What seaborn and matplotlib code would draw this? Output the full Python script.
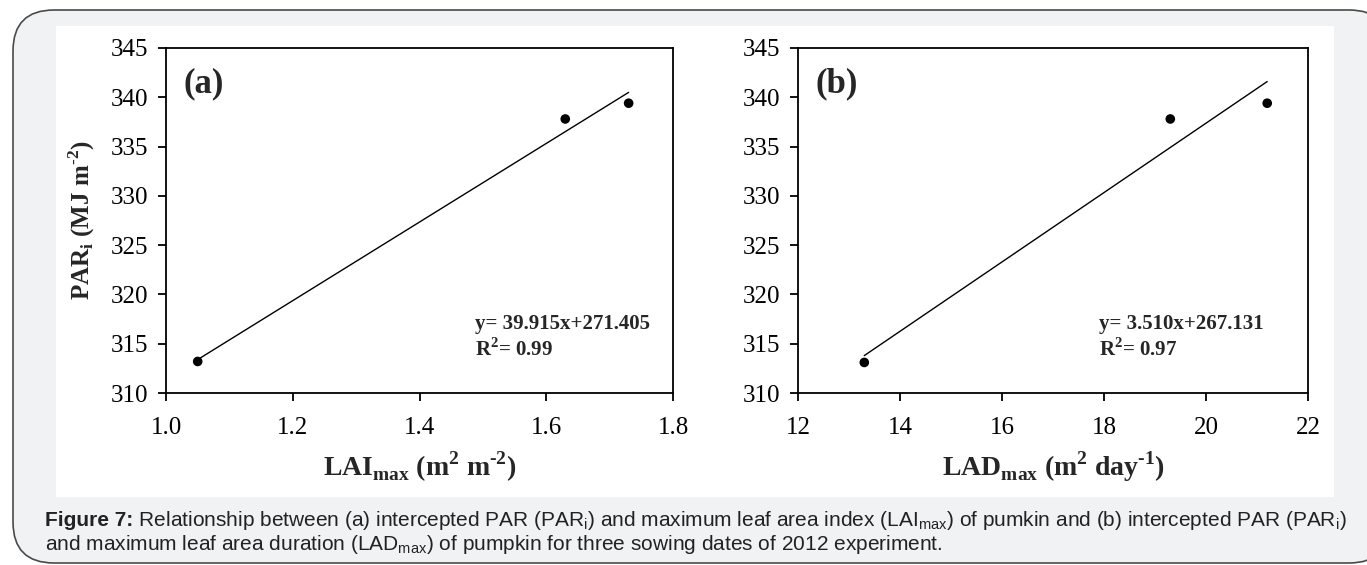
import matplotlib
matplotlib.use("Agg")
import matplotlib.pyplot as plt
from matplotlib.patches import FancyBboxPatch, Rectangle
import numpy as np
import pandas as pd
import seaborn as sns

# ---- data ----
lai_max = [1.05, 1.63, 1.73]
lad_max = [13.3, 19.3, 21.2]
par_i = [313.2, 337.8, 339.4]
par_i_b = [313.1, 337.8, 339.4]
eq_a = "y= 39.915x+271.405"
r2_a = "0.99"
eq_b = "y= 3.510x+267.131"
r2_b = "0.97"
xticks_a = [1.0, 1.2, 1.4, 1.6, 1.8]
xticks_b = [12, 14, 16, 18, 20, 22]
yticks = [310, 315, 320, 325, 330, 335, 340, 345]
caption_bold = "Figure 7:"
caption_1 = (" Relationship between (a) intercepted PAR (PAR$_{\\mathregular{i}}$) and maximum leaf area index "
             "(LAI$_{\\mathregular{max}}$) of pumkin and (b) intercepted PAR (PAR$_{\\mathregular{i}}$)")
caption_2 = ("and maximum leaf area duration (LAD$_{\\mathregular{max}}$) of pumpkin for three sowing dates "
             "of 2012 experiment.")

sns.set_style("ticks")
plt.rcParams["font.family"] = ["Liberation Serif", "DejaVu Serif"]

W, H = 1367, 565
fig = plt.figure(figsize=(W / 100, H / 100), dpi=100)
fig.patch.set_facecolor("white")


def fx(px):
    return px / W


def fy(py):
    return 1 - py / H


# outer rounded box
box = FancyBboxPatch((fx(13), fy(563)), fx(1390) - fx(13), fy(10) - fy(563),
                     boxstyle="round,pad=0,rounding_size=0.03",
                     transform=fig.transFigure, facecolor="#f1f2f4",
                     edgecolor="#4a4a4a", linewidth=1.2, zorder=-2,
                     mutation_aspect=W / H)
fig.patches.append(box)
# white image area
fig.patches.append(Rectangle((fx(56), fy(497)), fx(1334) - fx(56), fy(26) - fy(497),
                             transform=fig.transFigure, facecolor="white",
                             edgecolor="none", zorder=-1))

ax_a = fig.add_axes([fx(166), fy(393), fx(673) - fx(166), fy(48) - fy(393)])
ax_b = fig.add_axes([fx(798), fy(393), fx(1308) - fx(798), fy(48) - fy(393)])

df_a = pd.DataFrame({"x": lai_max, "y": par_i})
df_b = pd.DataFrame({"x": lad_max, "y": par_i_b})

for ax, df, xt, eq, r2, lab, xpos in [
    (ax_a, df_a, xticks_a, eq_a, r2_a, "(a)", 0.61),
    (ax_b, df_b, xticks_b, eq_b, r2_b, "(b)", 0.59),
]:
    sns.regplot(data=df, x="x", y="y", ax=ax, ci=None, truncate=True,
                scatter_kws=dict(s=48, color="black", edgecolor="none",
                                 alpha=1, zorder=3),
                line_kws=dict(color="black", linewidth=1.0))
    ax.set_xlim(xt[0], xt[-1])
    ax.set_ylim(310, 345)
    ax.set_xticks(xt)
    ax.set_yticks(yticks)
    if ax is ax_a:
        ax.set_xticklabels([f"{v:.1f}" for v in xt])
    ax.set_facecolor("white")
    for s in ax.spines.values():
        s.set_visible(True)
        s.set_linewidth(1.3)
        s.set_color("black")
    ax.tick_params(axis="both", direction="out", length=6, width=1.3,
                   labelsize=18, colors="black")
    ax.tick_params(axis="y", pad=7)
    ax.tick_params(axis="x", pad=11)
    ax.set_xlabel("")
    ax.set_ylabel("")
    ax.text(0.035, 0.945, lab, transform=ax.transAxes, fontsize=25,
            fontweight="bold", va="top", ha="left")
    ax.text(xpos, 0.2, eq, transform=ax.transAxes, fontsize=15,
            fontweight="bold", va="center", ha="left")
    ax.text(xpos, 0.125, "R$^{\\mathregular{2}}$= " + r2, transform=ax.transAxes,
            fontsize=15, fontweight="bold", va="center", ha="left")

ax_a.set_xlabel("LAI$_{\\mathregular{max}}$ (m$^{\\mathregular{2}}$ m$^{\\mathregular{\u20102}}$)",
                fontsize=20, fontweight="bold", labelpad=8)
ax_b.set_xlabel("LAD$_{\\mathregular{max}}$ (m$^{\\mathregular{2}}$ day$^{\\mathregular{\u20101}}$)",
                fontsize=20, fontweight="bold", labelpad=8)
ax_a.set_ylabel("PAR$_{\\mathregular{i}}$ (MJ m$^{\\mathregular{\u20102}}$)",
                fontsize=18, fontweight="bold", labelpad=10)

# caption
cap_font = ["Liberation Sans", "DejaVu Sans"]
t0 = fig.text(fx(45), fy(521), caption_bold, fontsize=15, fontweight="bold",
              family=cap_font, color="#222222", va="center", ha="left")
fig.canvas.draw()
bb = t0.get_window_extent(renderer=fig.canvas.get_renderer())
fig.text(bb.x1 / W, fy(521), caption_1, fontsize=15, family=cap_font,
         color="#222222", va="center", ha="left")
fig.text(fx(45), fy(545), caption_2, fontsize=15, family=cap_font,
         color="#222222", va="center", ha="left")

fig.savefig("out.png", dpi=100, facecolor="white")
